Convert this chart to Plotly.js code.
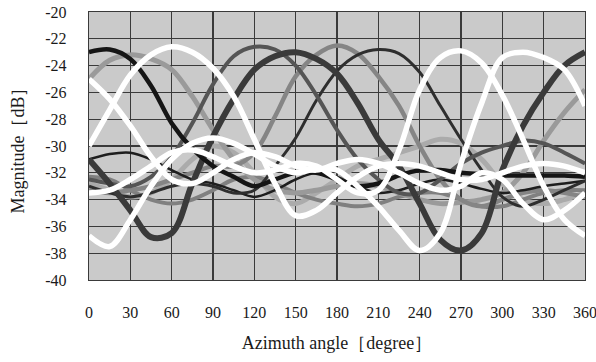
<!DOCTYPE html>
<html>
<head>
<meta charset="utf-8">
<script src="https://cdn.plot.ly/plotly-3.0.1.min.js"></script>
<style>html,body{margin:0;padding:0;background:#fff;}#chart{width:596px;height:362px;}</style>
</head>
<body>
<div id="chart"></div>
<script>
// Azimuth angles (degree)
const azimuth = [0,15,30,45,60,75,90,105,120,135,150,165,180,195,210,225,240,255,270,285,300,315,330,345,360];
const xTicks = [0,30,60,90,120,150,180,210,240,270,300,330,360];
const yTicks = [-40,-38,-36,-34,-32,-30,-28,-26,-24,-22,-20];

// Magnitude [dB] per channel
const ch1 = [-23,-22.8,-23.5,-25.5,-28.3,-30.2,-31.5,-32.3,-33,-32.5,-32,-32,-32.5,-33,-32.8,-32.2,-31.8,-31.8,-32,-32.1,-32.2,-32.2,-32.2,-32.2,-32.3];
const ch2 = [-31,-32.8,-34.8,-36.8,-36.5,-32.8,-29.3,-26.5,-24.3,-23.3,-23,-23.5,-24.6,-26.8,-29.5,-31.5,-34.3,-37,-37.8,-36.5,-31.8,-28.5,-26,-24,-23];
const ch3 = [-32.5,-32.8,-33,-32.3,-30.8,-28.3,-25.4,-23.3,-22.6,-22.8,-24,-26.2,-28.8,-31,-32.5,-33.5,-33.5,-32.5,-31.3,-30.5,-30,-29.6,-29.8,-30.5,-31.3];
const ch4 = [-25,-23.6,-23.2,-23.5,-24.3,-26.3,-28.8,-31,-32.5,-33.3,-33.5,-33.3,-33,-32.8,-33,-33.5,-34,-34.3,-34.2,-34,-33.5,-32,-29.6,-27.5,-25.8];
const ch5 = [-31,-30.6,-30.5,-31,-31.8,-32.5,-32.8,-33.3,-33.8,-33.3,-32.5,-32,-32.3,-33,-33.5,-33.3,-32.8,-32.5,-32.8,-33.2,-33.5,-33.3,-33,-32.8,-32.6];
const ch6 = [-33.3,-33.5,-33.3,-33,-32.5,-32,-31.5,-31.5,-30.5,-27.8,-24.8,-23.2,-22.5,-23.1,-24.8,-27,-30,-32.5,-34,-34.5,-34,-33.5,-33.3,-33.5,-33.8];
const ch7 = [-33,-33.5,-33.8,-33.5,-33,-32.8,-33,-33.5,-33.3,-31.5,-29.4,-26.6,-24.4,-23.2,-22.8,-23.1,-24.5,-27,-29.5,-31.8,-33.8,-34.5,-34,-33.3,-32.6];
const ch8 = [-32.8,-33.3,-33.8,-33.5,-32.5,-31,-30,-30.5,-32,-33.8,-34.3,-33.5,-32.5,-31.5,-31,-30.5,-30,-29.5,-29.8,-31,-32.8,-34,-34.3,-34,-33.5];
const ch9 = [-32.3,-32.5,-33.3,-34,-34.3,-34,-33.3,-32.5,-32.3,-32.8,-33.5,-34,-34.3,-34.5,-34.3,-33.8,-33.5,-33.5,-34,-34.5,-34.5,-34,-33.5,-33.3,-33.3];
const ch10 = [-25,-26.5,-28.5,-30.8,-32.5,-32.8,-32,-31,-30.5,-30.8,-31.5,-31.8,-31.3,-31,-31.3,-32,-32.8,-33.3,-33,-32,-32.5,-34.3,-35.5,-34.8,-33.5];
const ch11 = [-30,-27.3,-24.7,-23.2,-22.6,-23,-24.2,-26.3,-29.5,-32.8,-35.2,-34.8,-33.5,-32.3,-31.5,-31.3,-31.5,-32,-32.5,-32.5,-32,-31.5,-31.3,-31.5,-32];
const ch12 = [-36.7,-37.5,-35.5,-33,-31,-29.8,-29.4,-29.8,-30.6,-31.5,-32,-31.7,-31.8,-33,-34.5,-36.3,-37.8,-36.5,-31.3,-26.8,-23.4,-23,-23.4,-24.3,-27];
const ch13 = [-33.5,-33.3,-32.5,-31.5,-30.5,-30.3,-30.8,-31.5,-32,-31.8,-31.3,-31.5,-32.5,-33.5,-33.3,-30.3,-25.8,-23.4,-22.9,-23.8,-26.2,-29.5,-33,-35.5,-36.7];

const series = [
  {y: ch8,  color: '#ababab', width: 5},
  {y: ch9,  color: '#808080', width: 4},
  {y: ch4,  color: '#9a9a9a', width: 5},
  {y: ch6,  color: '#858585', width: 4.5},
  {y: ch5,  color: '#1e1e1e', width: 2.5},
  {y: ch7,  color: '#2e2e2e', width: 3},
  {y: ch3,  color: '#555555', width: 4},
  {y: ch2,  color: '#3a3a3a', width: 6},
  {y: ch1,  color: '#151515', width: 4.5},
  {y: ch10, color: '#ffffff', width: 5.5},
  {y: ch11, color: '#ffffff', width: 5.5},
  {y: ch12, color: '#ffffff', width: 5.5},
  {y: ch13, color: '#ffffff', width: 5.5}
];

const data = series.map(s => ({
  x: azimuth, y: s.y, type: 'scatter', mode: 'lines',
  line: {color: s.color, width: s.width, shape: 'spline', smoothing: 1},
  hoverinfo: 'skip', showlegend: false
}));

const FAM = 'Times New Roman';
const f = (size) => ({family: FAM, size: size, color: '#1a1a1a'});

const layout = {
  width: 596, height: 362,
  margin: {l: 89, r: 11, t: 12, b: 82},
  paper_bgcolor: '#ffffff',
  plot_bgcolor: '#cacaca',
  showlegend: false,
  font: f(16),
  xaxis: {
    range: [0, 360.001], tickmode: 'array', tickvals: xTicks, ticktext: xTicks.map(String),
    showgrid: true, gridcolor: '#3a3a3a', gridwidth: 1.2,
    zeroline: false, showline: true, linecolor: '#3a3a3a', linewidth: 1.2, mirror: true,
    ticks: '', ticklabelstandoff: 18, ticklabeloverflow: 'allow',
    tickfont: f(16),
    title: {text: 'Azimuth angle［degree］', font: f(18), standoff: 16}
  },
  yaxis: {
    range: [-40, -20], tickmode: 'array', tickvals: yTicks, ticktext: yTicks.map(String),
    showgrid: true, gridcolor: '#3a3a3a', gridwidth: 1.2,
    zeroline: false, showline: true, linecolor: '#3a3a3a', linewidth: 1.2, mirror: true,
    ticks: '', ticklabelstandoff: 18,
    tickfont: f(16),
    title: {text: 'Magnitude［dB］', font: f(18), standoff: 16}
  }
};

Plotly.newPlot('chart', data, layout, {staticPlot: true, displayModeBar: false});
</script>
</body>
</html>
